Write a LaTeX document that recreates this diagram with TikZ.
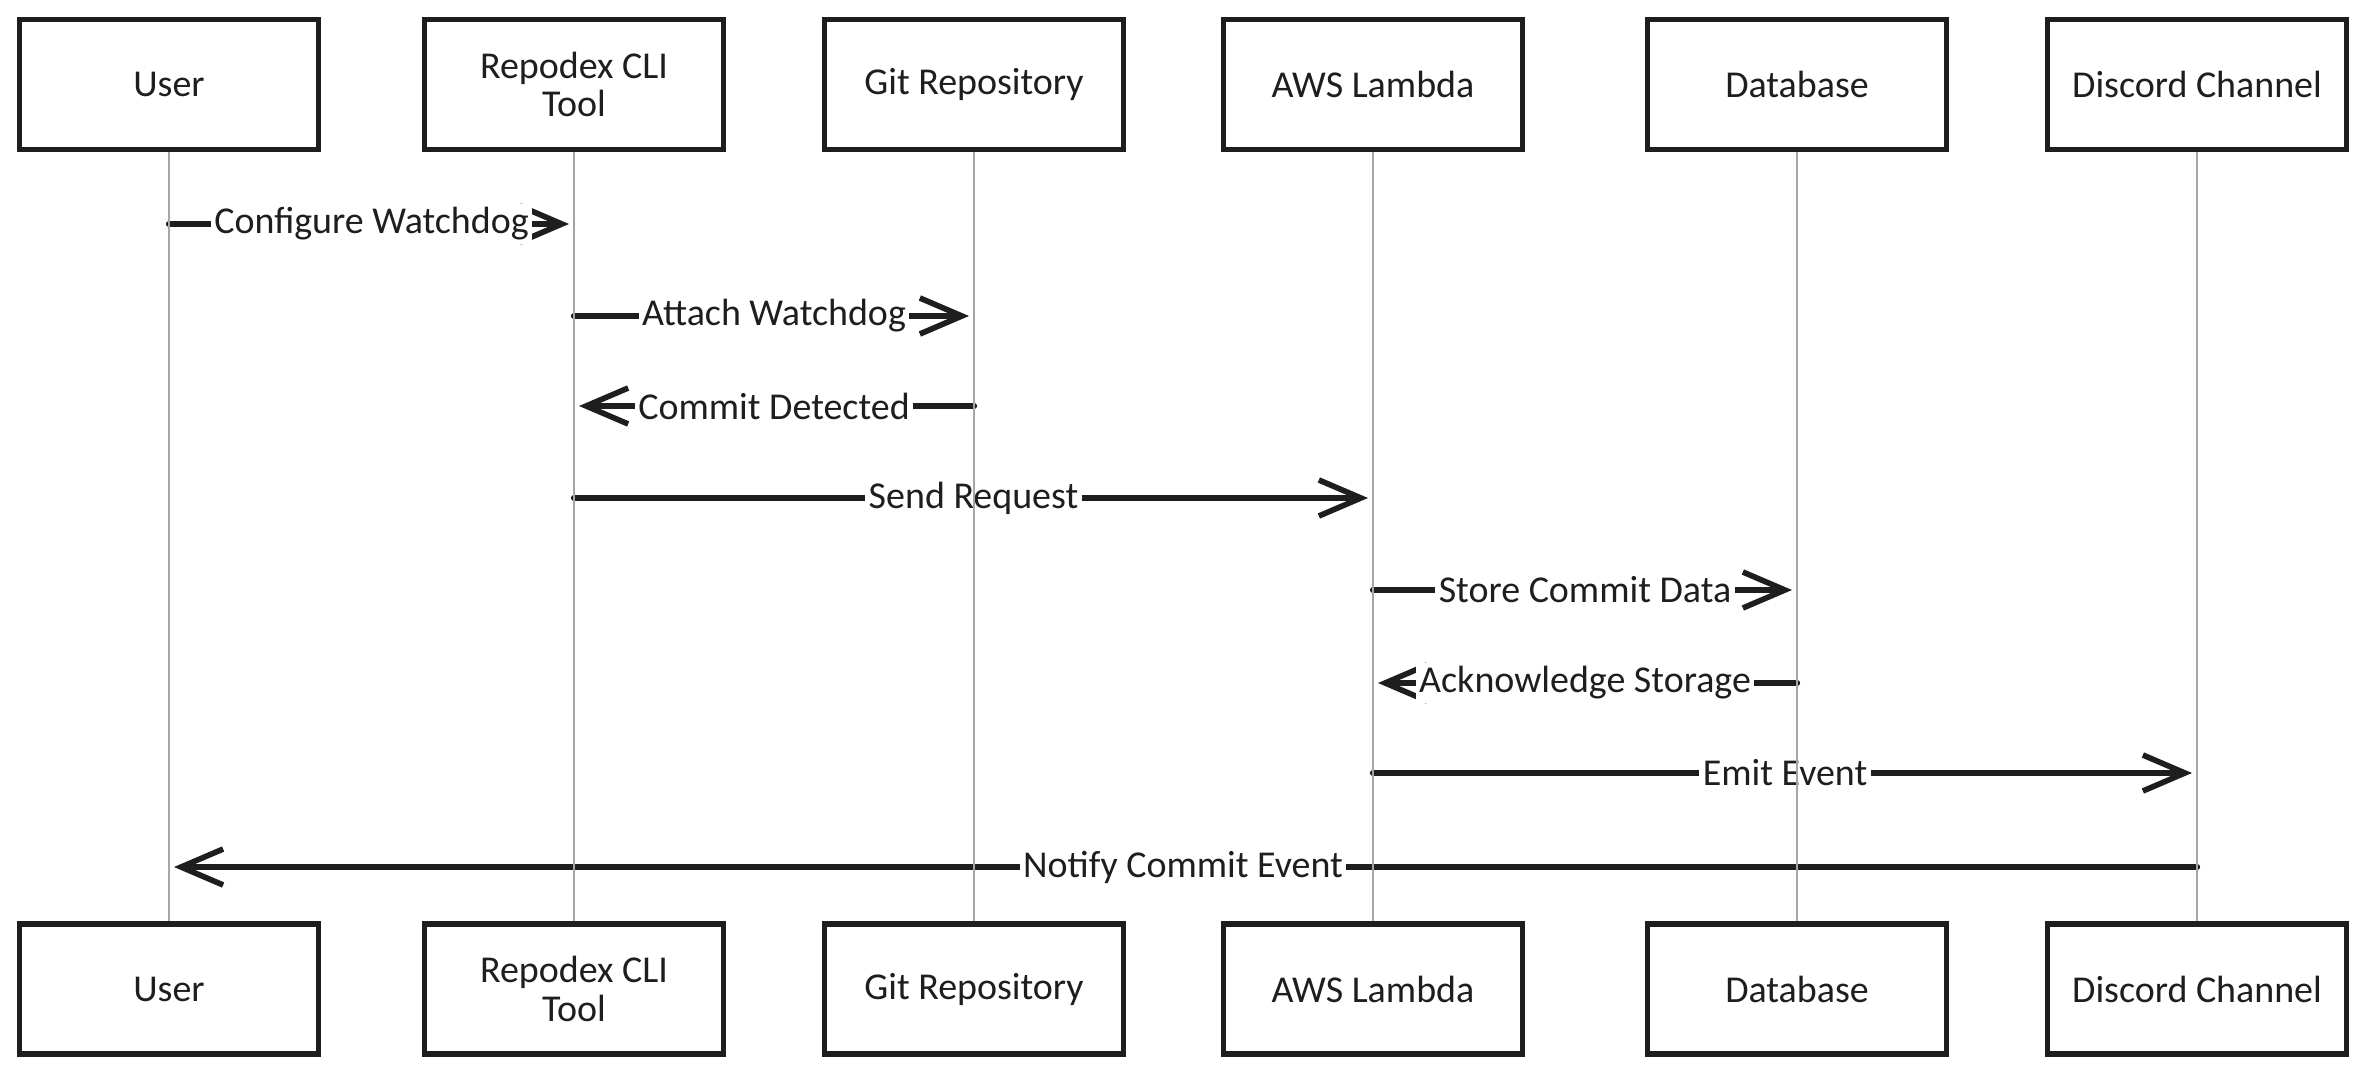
\documentclass[tikz,border=0pt]{standalone}
\usepackage{fontspec}
\setmainfont{Carlito}
\usetikzlibrary{arrows.meta}
\definecolor{ink}{HTML}{1E1E1E}

\begin{document}
\begin{tikzpicture}[x=0.1mm, y=-0.1mm,
    actor/.style={draw=ink, line width=1.6pt, fill=white, minimum width=29.9mm, minimum height=13mm, align=center, text=ink, font=\fontsize{10.8}{11}\selectfont},
    lifeline/.style={draw=gray!70, line width=0.5pt},
    msg/.style={draw=ink, line width=1.8pt, line cap=round, -{Straight Barb[length=4.2mm, width=3.6mm, line width=1.6pt]}, shorten >=0.5mm},
    lbl/.style={fill=white, inner sep=1pt, text=ink, font=\fontsize{10.8}{11}\selectfont}]
    \useasboundingbox (0,0) rectangle (2368,1076);

    %participants, top row
    \node[actor] (user) at (169,84.5) {User};
    \node[actor] (cli) at (574,84.5) {Repodex CLI\\Tool};
    \node[actor] (git) at (974,84.5) {Git Repository};
    \node[actor] (lambda) at (1373,84.5) {AWS Lambda};
    \node[actor] (db) at (1797,84.5) {Database};
    \node[actor] (discord) at (2197,84.5) {Discord Channel};

    %participants, bottom row
    \node[actor] (userB) at (169,989) {User};
    \node[actor] (cliB) at (574,989) {Repodex CLI\\Tool};
    \node[actor] (gitB) at (974,989) {Git Repository};
    \node[actor] (lambdaB) at (1373,989) {AWS Lambda};
    \node[actor] (dbB) at (1797,989) {Database};
    \node[actor] (discordB) at (2197,989) {Discord Channel};

    %message rows
    \coordinate (m1) at (0,224);
    \coordinate (m2) at (0,316);
    \coordinate (m3) at (0,406);
    \coordinate (m4) at (0,498);
    \coordinate (m5) at (0,590);
    \coordinate (m6) at (0,683);
    \coordinate (m7) at (0,773);
    \coordinate (m8) at (0,867);

    %messages
    \draw[msg] (user |- m1) -- node[lbl] {Configure Watchdog} (cli |- m1);
    \draw[msg] (cli |- m2) -- node[lbl] {Attach Watchdog} (git |- m2);
    \draw[msg] (git |- m3) -- node[lbl] {Commit Detected} (cli |- m3);
    \draw[msg] (cli |- m4) -- node[lbl] {Send Request} (lambda |- m4);
    \draw[msg] (lambda |- m5) -- node[lbl] {Store Commit Data} (db |- m5);
    \draw[msg] (db |- m6) -- node[lbl] {Acknowledge Storage} (lambda |- m6);
    \draw[msg] (lambda |- m7) -- node[lbl] {Emit Event} (discord |- m7);
    \draw[msg] (discord |- m8) -- node[lbl] {Notify Commit Event} (user |- m8);

    %lifelines, over the labels
    \draw[lifeline] (user) -- (userB);
    \draw[lifeline] (cli) -- (cliB);
    \draw[lifeline] (git) -- (gitB);
    \draw[lifeline] (lambda) -- (lambdaB);
    \draw[lifeline] (db) -- (dbB);
    \draw[lifeline] (discord) -- (discordB);
\end{tikzpicture}
\end{document}
